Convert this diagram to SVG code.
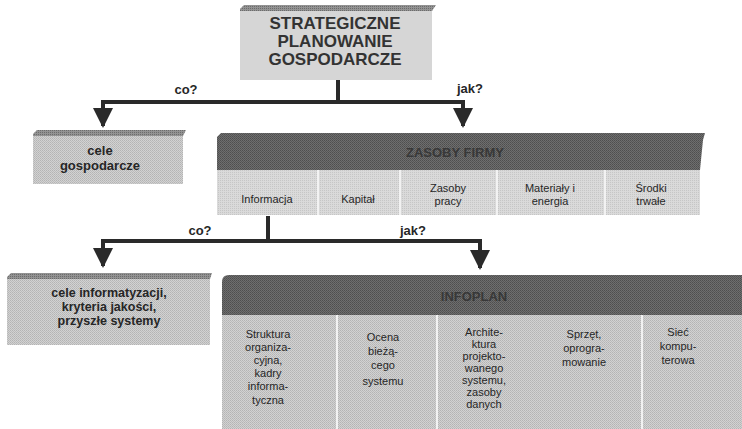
<svg xmlns="http://www.w3.org/2000/svg" width="742" height="429" viewBox="0 0 742 429">
<defs>
<pattern id="lightDither" width="2" height="2" patternUnits="userSpaceOnUse">
<rect width="2" height="2" fill="#d2d2d2"/><rect width="1" height="1" fill="#b4b4b4"/><rect x="1" y="1" width="1" height="1" fill="#bcbcbc"/>
</pattern>
<pattern id="cellDither" width="2" height="2" patternUnits="userSpaceOnUse">
<rect width="2" height="2" fill="#dadada"/><rect width="1" height="1" fill="#c6c6c6"/>
</pattern>
<pattern id="darkDither" width="2" height="2" patternUnits="userSpaceOnUse">
<rect width="2" height="2" fill="#6e6e6e"/><rect width="1" height="1" fill="#4e4e4e"/><rect x="1" y="1" width="1" height="1" fill="#575757"/>
</pattern>
<pattern id="stripDither" width="2" height="2" patternUnits="userSpaceOnUse">
<rect width="2" height="2" fill="#939393"/><rect width="1" height="1" fill="#6c6c6c"/>
</pattern>
<marker id="arrow" viewBox="0 0 10 10" refX="9" refY="5" markerWidth="5.5" markerHeight="5" orient="auto" markerUnits="strokeWidth">
<path d="M0,0 L10,5 L0,10 z" fill="#2a2a2a"/>
</marker>
</defs>
<style>
.t{font-family:"Liberation Sans",Arial,sans-serif;fill:#262626;text-anchor:middle}
.big{font-size:17px;font-weight:bold;fill:#333}
.lbl{font-size:13px;font-weight:bold}
.lbl2{font-size:12.5px;font-weight:bold}
.cell{font-size:11px}
.bar{font-size:13px;font-weight:bold;fill:#383838}
.conn{stroke:#2a2a2a;stroke-width:4;fill:none}
.sep{stroke:#f2f2f2;stroke-width:2}
</style>
<rect width="742" height="429" fill="#ffffff"/>

<g id="strategiczne">
<rect x="240" y="9" width="192" height="71" fill="#d6d6d6"/>
<polygon points="240,9 244,5 436,5 432,11 240,11" fill="url(#stripDither)"/>
<text class="t big" x="335" y="29">STRATEGICZNE</text>
<text class="t big" x="335" y="47">PLANOWANIE</text>
<text class="t big" x="335" y="65">GOSPODARCZE</text>
</g>

<g id="cele-gospodarcze">
<rect x="33" y="134" width="150" height="50" fill="url(#lightDither)"/>
<polygon points="33,134 37,130 186,130 183,136 33,136" fill="url(#stripDither)"/>
<text class="t lbl" x="100" y="155">cele</text>
<text class="t lbl" x="100" y="170">gospodarcze</text>
</g>

<g id="zasoby-firmy">
<rect x="217" y="170" width="483" height="45" fill="url(#cellDither)"/>
<polygon points="217,137 221,133 705,133 703,140 700,170 217,170" fill="url(#darkDither)"/>
<line class="sep" x1="318" y1="170" x2="318" y2="215"/>
<line class="sep" x1="400" y1="170" x2="400" y2="215"/>
<line class="sep" x1="497" y1="170" x2="497" y2="215"/>
<line class="sep" x1="605" y1="170" x2="605" y2="215"/>
<text class="t bar" x="455" y="157">ZASOBY FIRMY</text>
<text class="t cell" x="267" y="203">Informacja</text>
<text class="t cell" x="358" y="203">Kapitał</text>
<text class="t cell" x="448" y="192">Zasoby</text>
<text class="t cell" x="448" y="205">pracy</text>
<text class="t cell" x="550" y="192">Materiały i</text>
<text class="t cell" x="550" y="205">energia</text>
<text class="t cell" x="651" y="192">Środki</text>
<text class="t cell" x="651" y="205">trwałe</text>
</g>

<g id="cele-informatyzacji">
<rect x="7" y="277" width="203" height="68" fill="url(#lightDither)"/>
<polygon points="7,277 11,273 212,273 210,279 7,279" fill="url(#stripDither)"/>
<text class="t lbl2" x="109" y="297">cele informatyzacji,</text>
<text class="t lbl2" x="109" y="311">kryteria jakości,</text>
<text class="t lbl2" x="109" y="325">przyszłe systemy</text>
</g>

<g id="infoplan">
<rect x="222" y="315" width="520" height="114" fill="url(#lightDither)"/>
<path d="M222,315 L222,282 Q222,275 229,275 L742,275 L742,315 Z" fill="url(#darkDither)"/>
<line class="sep" x1="337" y1="315" x2="337" y2="429"/>
<line class="sep" x1="437" y1="315" x2="437" y2="429"/>
<line class="sep" x1="642" y1="315" x2="642" y2="429"/>
<text class="t bar" x="474" y="301">INFOPLAN</text>
<text class="t cell" x="268" y="338">Struktura</text>
<text class="t cell" x="268" y="351">organiza-</text>
<text class="t cell" x="268" y="364">cyjna,</text>
<text class="t cell" x="268" y="377">kadry</text>
<text class="t cell" x="268" y="390">informa-</text>
<text class="t cell" x="268" y="404">tyczna</text>
<text class="t cell" x="383" y="341">Ocena</text>
<text class="t cell" x="383" y="355">bieżą-</text>
<text class="t cell" x="383" y="369">cego</text>
<text class="t cell" x="383" y="385">systemu</text>
<text class="t cell" x="484" y="336">Archite-</text>
<text class="t cell" x="484" y="348">ktura</text>
<text class="t cell" x="484" y="360">projekto-</text>
<text class="t cell" x="484" y="372">wanego</text>
<text class="t cell" x="484" y="384">systemu,</text>
<text class="t cell" x="484" y="396">zasoby</text>
<text class="t cell" x="484" y="408">danych</text>
<text class="t cell" x="584" y="338">Sprzęt,</text>
<text class="t cell" x="584" y="352">oprogra-</text>
<text class="t cell" x="584" y="366">mowanie</text>
<text class="t cell" x="678" y="336">Sieć</text>
<text class="t cell" x="678" y="350">kompu-</text>
<text class="t cell" x="678" y="364">terowa</text>
</g>

<g id="connectors">
<line class="conn" x1="338" y1="80" x2="338" y2="102"/>
<polyline class="conn" points="101,102 465,102"/>
<path class="conn" d="M103,100 L103,126" marker-end="url(#arrow)"/>
<path class="conn" d="M463,100 L463,126" marker-end="url(#arrow)"/>
<text class="t lbl" x="186" y="94">co?</text>
<text class="t lbl" x="470" y="93">jak?</text>
<line class="conn" x1="268" y1="216" x2="268" y2="241"/>
<polyline class="conn" points="101,241 482,241"/>
<path class="conn" d="M103,239 L103,266" marker-end="url(#arrow)"/>
<path class="conn" d="M480,239 L480,268" marker-end="url(#arrow)"/>
<text class="t lbl" x="200" y="235">co?</text>
<text class="t lbl" x="413" y="235">jak?</text>
</g>
</svg>
